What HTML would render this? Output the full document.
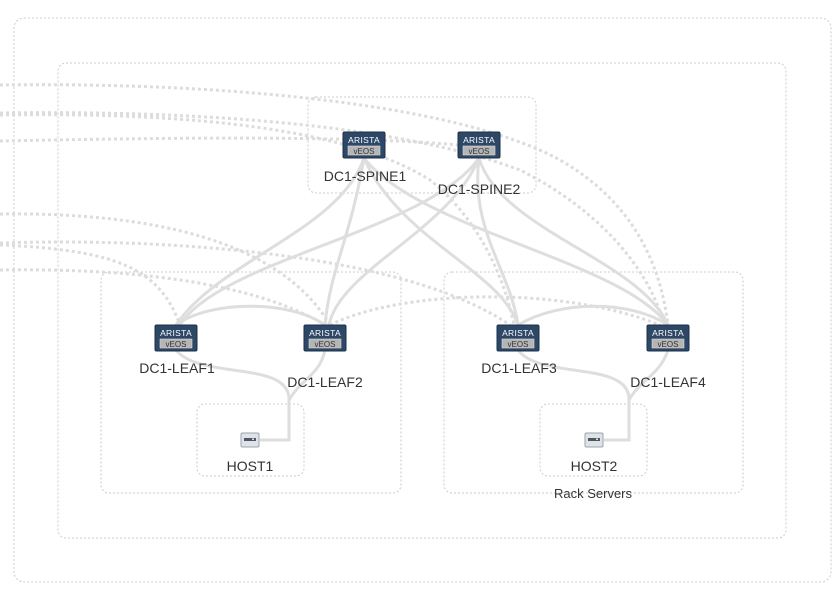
<!DOCTYPE html>
<html><head><meta charset="utf-8"><style>
body{margin:0;background:#fff;}
svg{display:block;font-family:"Liberation Sans",sans-serif;}
</style></head><body>
<svg width="833" height="607" viewBox="0 0 833 607">
<defs>
<g id="dev">
<rect x="-21" y="-13" width="42" height="26" rx="1.5" fill="#2d4767" stroke="#1d3048"/>
<text x="0" y="-2" font-size="8.5" fill="#fff" text-anchor="middle" letter-spacing="0.3">ARISTA</text>
<rect x="-16" y="1" width="32" height="9" fill="#b5b5b5" stroke="#ddd" stroke-width="0.6"/>
<text x="0" y="9" font-size="8" fill="#333" text-anchor="middle">vEOS</text>
</g>
<g id="host">
<rect x="-9" y="-7" width="18" height="14" rx="1.5" fill="#dfe3e8" stroke="#9aa3ad"/>
<rect x="-6" y="-2" width="12" height="3" fill="#4a5866"/>
<rect x="2" y="-1.5" width="2" height="1.5" fill="#ddd"/>
</g>
</defs>
<g fill="none" stroke="#ccc" stroke-width="1" stroke-dasharray="2 2">
<rect x="14" y="18" width="817" height="564" rx="10"/>
<rect x="58" y="63" width="728" height="475" rx="8"/>
<rect x="308" y="97" width="228" height="96" rx="8"/>
<rect x="101" y="272" width="300" height="221" rx="8"/>
<rect x="444" y="272" width="299" height="221" rx="8"/>
<rect x="197" y="404" width="107" height="72" rx="8"/>
<rect x="540" y="404" width="107" height="72" rx="8"/>
</g>
<g fill="none" stroke="#dcdcdc" stroke-width="3" stroke-dasharray="3 3">
<path d="M0 85 C200 82 450 100 560 160 C630 200 660 260 668 325"/>
<path d="M0 113 C200 110 400 125 520 170 C600 210 650 270 664 325"/>
<path d="M0 115 C200 112 350 130 430 180 C480 220 505 280 514 325"/>
<path d="M0 141 C150 138 350 135 458 145"/>
<path d="M0 214 C150 212 280 240 330 325"/>
<path d="M0 243 C150 238 400 250 510 325"/>
<path d="M0 245 C120 250 160 270 180 325"/>
<path d="M0 270 C120 268 250 280 325 325"/>
<path d="M330 325 C400 290 560 285 660 325"/>
</g>
<g fill="none" stroke="#dedede" stroke-width="3">
<path d="M364 158 C340 230 220 260 176 325"/>
<path d="M364 158 C350 240 330 270 325 325"/>
<path d="M364 158 C400 240 500 270 518 325"/>
<path d="M364 158 C420 230 620 260 668 325"/>
<path d="M479 158 C430 230 220 260 180 325"/>
<path d="M479 158 C450 230 340 270 329 325"/>
<path d="M479 158 C470 230 510 270 518 325"/>
<path d="M479 158 C500 230 640 260 668 325"/>
<path d="M176 325 C210 300 290 300 325 325"/>
<path d="M518 325 C560 300 630 300 668 325"/>
<path d="M176 350 C200 380 290 360 289 400 L289 440 L260 440"/>
<path d="M325 350 C320 375 300 380 289 400"/>
<path d="M518 350 C540 380 630 360 629 400 L629 440 L604 440"/>
<path d="M668 350 C660 375 640 380 629 400"/>
</g>
<use href="#dev" x="364" y="145"/>
<use href="#dev" x="479" y="145"/>
<use href="#dev" x="176" y="338"/>
<use href="#dev" x="325" y="338"/>
<use href="#dev" x="518" y="338"/>
<use href="#dev" x="668" y="338"/>
<use href="#host" x="250" y="440"/>
<use href="#host" x="594" y="440"/>
<g font-size="14" fill="#333" text-anchor="middle">
<text x="365" y="181">DC1-SPINE1</text>
<text x="479" y="194">DC1-SPINE2</text>
<text x="177" y="373">DC1-LEAF1</text>
<text x="325" y="387">DC1-LEAF2</text>
<text x="519" y="373">DC1-LEAF3</text>
<text x="668" y="387">DC1-LEAF4</text>
<text x="250" y="471">HOST1</text>
<text x="594" y="471">HOST2</text>
<text x="593" y="498" font-size="13">Rack Servers</text>
</g>
</svg>
</body></html>
